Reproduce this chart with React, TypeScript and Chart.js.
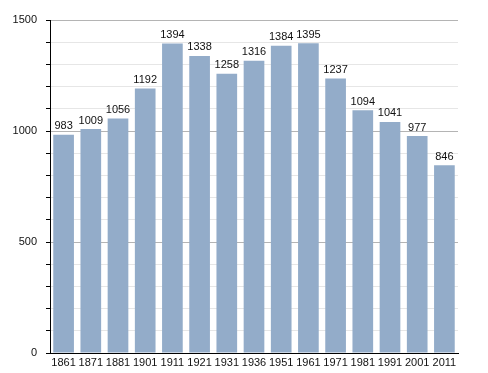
import React, { useEffect, useRef } from "react";
import { Chart, registerables } from "chart.js";

Chart.register(...registerables);

const years = ["1861", "1871", "1881", "1901", "1911", "1921", "1931", "1936", "1951", "1961", "1971", "1981", "1991", "2001", "2011"];
const population = [983, 1009, 1056, 1192, 1394, 1338, 1258, 1316, 1384, 1395, 1237, 1094, 1041, 977, 846];
const yTickLabels = [0, 500, 1000, 1500];

const FONT = "'Liberation Sans Narrow', 'Arial Narrow', 'Liberation Sans', sans-serif";

const valueLabels = {
  id: "valueLabels",
  afterDatasetsDraw(chart: any) {
    const ctx = chart.ctx;
    const meta = chart.getDatasetMeta(0);
    ctx.save();
    ctx.font = `11px ${FONT}`;
    ctx.fillStyle = "#111";
    ctx.textAlign = "center";
    ctx.textBaseline = "bottom";
    meta.data.forEach((bar: any, i: number) => {
      ctx.fillText(String(population[i]), bar.x, bar.y - 3);
    });
    ctx.restore();
  },
};

export default function App() {
  const ref = useRef<HTMLCanvasElement>(null);
  useEffect(() => {
    const chart = new Chart(ref.current!, {
      type: "bar",
      data: {
        labels: years,
        datasets: [
          {
            data: population,
            backgroundColor: "#93acc9",
            borderWidth: 0,
            barPercentage: 0.76,
            categoryPercentage: 1,
          },
        ],
      },
      options: {
        animation: false,
        responsive: false,
        maintainAspectRatio: false,
        layout: { padding: { top: 20, right: 30, left: 0, bottom: 0 } },
        plugins: { legend: { display: false }, tooltip: { enabled: false } },
        scales: {
          x: {
            grid: { display: false, drawTicks: false, tickLength: 0 },
            border: { display: true, color: "#000", width: 1 },
            ticks: { color: "#111", font: { size: 11, family: FONT }, padding: 3, maxRotation: 0, autoSkip: false },
            afterFit: (s: any) => { s.height = 20; },
          },
          y: {
            min: 0,
            max: 1500,
            border: { display: true, color: "#000", width: 1 },
            grid: {
              color: (c: any) => (c.tick && c.tick.value % 500 === 0 ? "#b4b4b4" : "#e6e6e6"),
              tickColor: "#000",
              tickLength: 4,
              drawTicks: true,
            },
            ticks: {
              stepSize: 100,
              color: "#111",
              font: { size: 11, family: FONT },
              padding: 9,
              callback: (v: any) => (yTickLabels.includes(Number(v)) ? String(v) : ""),
            },
            afterFit: (s: any) => { s.width = 50; },
          },
        },
      },
      plugins: [valueLabels],
    });
    return () => chart.destroy();
  }, []);
  return (
    <div style={{ position: "fixed", left: 0, top: 0, width: 488, height: 373, background: "#fff" }}>
      <canvas ref={ref} width={488} height={373} />
    </div>
  );
}
